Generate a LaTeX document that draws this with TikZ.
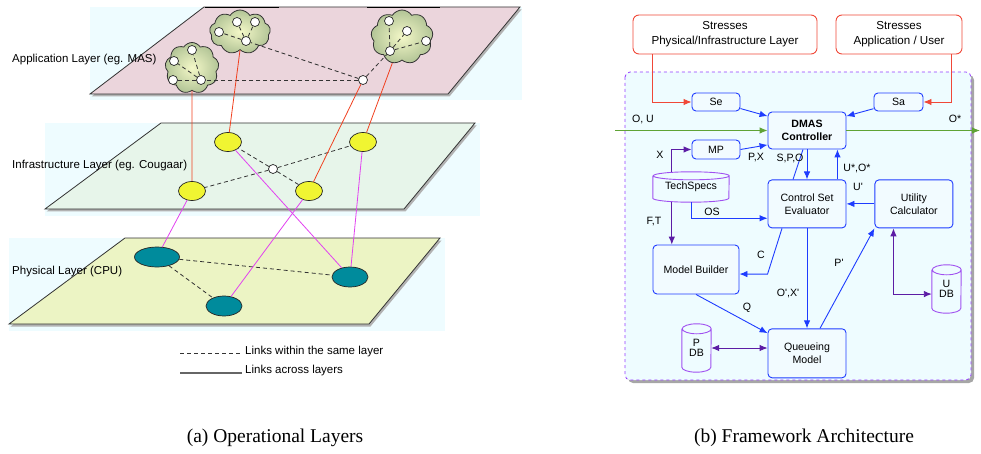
\documentclass[tikz,border=0pt]{standalone}
\usepackage{fontspec}
\setmainfont{Liberation Serif}
\setsansfont{Liberation Sans}
\usetikzlibrary{positioning,arrows.meta,calc,shapes.geometric,shapes.symbols}

\definecolor{bgcyan}{RGB}{238,252,255}
\definecolor{apppink}{RGB}{235,213,220}
\definecolor{infragreen}{RGB}{231,245,234}
\definecolor{physyellow}{RGB}{236,244,196}
\definecolor{cloudin}{RGB}{244,248,200}
\definecolor{cloudout}{RGB}{178,196,150}
\definecolor{hostyellow}{RGB}{240,245,50}
\definecolor{cputeal}{RGB}{0,139,156}
\definecolor{linkred}{RGB}{240,64,31}
\definecolor{linkmag}{RGB}{226,66,240}
\definecolor{flowblue}{RGB}{30,60,255}
\definecolor{boxfill}{RGB}{242,251,255}
\definecolor{stressred}{RGB}{240,72,56}
\definecolor{ctrlviolet}{RGB}{92,28,165}
\definecolor{dbviolet}{RGB}{160,80,240}
\definecolor{framepurple}{RGB}{150,60,255}
\definecolor{flowgreen}{RGB}{95,163,53}

% cylinder outline round a named node: name, half width, half height of the lid
\newcommand{\dbshape}[3]{%
  \draw[dbline] ($(#1.north west)+(0,-#3)$) -- ($(#1.south west)+(0,#3)$)
    arc[start angle=180, end angle=360, x radius=#2, y radius=#3]
    -- ($(#1.north east)+(0,-#3)$)
    arc[start angle=0, end angle=180, x radius=#2, y radius=#3]
    arc[start angle=180, end angle=360, x radius=#2, y radius=#3];}

\begin{document}
\begin{tikzpicture}[x=1pt, y=-1pt,
  plane/.style={draw=black!80, line width=0.8pt},
  planeshadow/.style={fill=black!30, shift={(1.5,2.5)}},
  agent/.style={circle, draw=black!85, fill=white, line width=0.7pt, minimum size=9pt, inner sep=0pt},
  group/.style={cloud, cloud puffs=9, cloud puff arc=115, draw=black!80, line width=0.8pt, inner color=cloudin, outer color=cloudout, inner sep=0pt},
  host/.style={ellipse, draw=black!85, fill=hostyellow, line width=0.7pt, minimum width=27pt, minimum height=19pt, inner sep=0pt},
  cpu/.style={ellipse, draw=black!85, fill=cputeal, line width=0.7pt, minimum width=36pt, minimum height=20pt, inner sep=0pt},
  samelayer/.style={draw=black!80, line width=0.8pt, dash pattern=on 4pt off 3pt},
  applink/.style={draw=linkred, line width=0.8pt},
  hostlink/.style={draw=linkmag, line width=0.8pt},
  layerlbl/.style={anchor=west, inner sep=0pt, font=\sffamily\fontsize{11.5}{13}\selectfont},
  legend/.style={anchor=west, inner sep=0pt, font=\sffamily\fontsize{11.5}{13}\selectfont},
  caption/.style={inner sep=0pt, font=\rmfamily\fontsize{19.5}{22}\selectfont},
  box/.style={draw=flowblue, fill=boxfill, rounded corners=4pt, line width=0.9pt, inner sep=0pt, align=center, font=\sffamily\fontsize{10.6}{12.7}\selectfont},
  stress/.style={draw=stressred, fill=white, rounded corners=6pt, line width=0.9pt, inner sep=0pt, align=center, minimum height=39pt, font=\sffamily\fontsize{11.6}{15}\selectfont},
  dbbox/.style={inner sep=0pt, align=center, font=\sffamily\fontsize{10.6}{13.5}\selectfont},
  dbline/.style={draw=dbviolet, line width=0.9pt},
  lbl/.style={inner sep=0pt, font=\sffamily\fontsize{10.6}{12}\selectfont},
  arr/.style={-{Latex[length=8pt,width=6.5pt]}, draw=flowblue, line width=0.9pt},
  parr/.style={-{Latex[length=8pt,width=6.5pt]}, draw=ctrlviolet, line width=0.9pt},
  pboth/.style={{Latex[length=8pt,width=6.5pt]}-{Latex[length=8pt,width=6.5pt]}, draw=ctrlviolet, line width=0.9pt},
  rarr/.style={-{Latex[length=8pt,width=6.5pt]}, draw=stressred, line width=0.9pt},
  garr/.style={-{Latex[length=8pt,width=6.5pt]}, draw=flowgreen, line width=1pt},
]
\useasboundingbox (0,0) rectangle (981,454);

% ---- (a) the three layers
\fill[bgcyan] (90,7) rectangle (522,100);
\fill[planeshadow] (204,7) -- (520,7) -- (448,94) -- (90,94) -- cycle;
\filldraw[plane, fill=apppink] (204,7) -- (520,7) -- (448,94) -- (90,94) -- cycle;
\draw[line width=1.6pt] (205,7.5) -- (279,7.5);
\draw[line width=1.6pt] (367,7.5) -- (440,7.5);

\fill[bgcyan] (45,123) rectangle (480,216);
\fill[planeshadow] (161,123) -- (475,123) -- (404,209) -- (45,209) -- cycle;
\filldraw[plane, fill=infragreen] (161,123) -- (475,123) -- (404,209) -- (45,209) -- cycle;

\fill[bgcyan] (9,238) rectangle (445,331);
\fill[planeshadow] (125,238) -- (440,238) -- (369,324) -- (9,324) -- cycle;
\filldraw[plane, fill=physyellow] (125,238) -- (440,238) -- (369,324) -- (9,324) -- cycle;

% agent groups
\node[group, minimum width=54pt, minimum height=51pt] (cl1) at (192,68) {};
\node[group, minimum width=61pt, minimum height=44pt] (cl2) at (240,32) {};
\node[group, minimum width=62pt, minimum height=54pt] (cl3) at (402,37) {};

\node[agent] (a1h) at (201,80) {};
\node[agent] (a1a) at (192,50) {};
\node[agent] (a1b) at (174,61) {};
\node[agent] (a1c) at (173,80) {};
\node[agent] (a2h) at (246,41) {};
\node[agent] (a2a) at (237,22) {};
\node[agent] (a2b) at (255,22) {};
\node[agent] (a2c) at (219,32) {};
\node[agent] (a3h) at (390,51) {};
\node[agent] (a3a) at (389,21) {};
\node[agent] (a3b) at (407,31) {};
\node[agent] (a3c) at (426,41) {};
\node[agent] (ahub) at (363,80) {};

\foreach \g in {1,2,3}
  \foreach \m in {a,b,c}
    \draw[samelayer] (a\g h) -- (a\g\m);
\draw[samelayer] (ahub) -- (a1h);
\draw[samelayer] (ahub) -- (a2h);
\draw[samelayer] (ahub) -- (a3h);

% hosts
\node[host] (hA) at (228,142) {};
\node[host] (hB) at (363,142) {};
\node[host] (hC) at (192,191) {};
\node[host] (hD) at (309,191) {};
\node[agent] (hhub) at (273,169) {};
\foreach \h in {A,B,C,D}
  \draw[samelayer] (hhub) -- (h\h);

% cpus
\node[cpu, minimum width=45pt] (p1) at (157,257) {};
\node[cpu] (p2) at (350,277) {};
\node[cpu] (p3) at (224,306) {};
\draw[samelayer] (p1) -- (p2);
\draw[samelayer] (p1) -- (p3);

% links across layers
\draw[applink] (cl1.south) -- (hC);
\draw[applink] (cl2.south) -- (hA);
\draw[applink] (ahub) -- (hD);
\draw[applink] (cl3) -- (hB);
\draw[hostlink] (hC) -- (p1);
\draw[hostlink] (hD) -- (p3);
\draw[hostlink] (hA) -- (p2);
\draw[hostlink] (hB) -- (p2);

\node[layerlbl] (lapp) at (12,60) {Application Layer (eg. MAS)};
\node[layerlbl] (linf) at (12,166) {Infrastructure Layer (eg. Cougaar)};
\node[layerlbl] (lphy) at (12,272) {Physical Layer (CPU)};

\node[legend] (lg1) at (245,352) {Links within the same layer};
\node[legend] (lg2) at (245,371) {Links across layers};
\coordinate (lg1s) at (180,353);
\coordinate (lg2s) at (180,373);
\draw[samelayer, line width=0.7pt] (lg1s) -- ($(lg1s -| lg1.west)+(-5pt,0)$);
\draw[black!60, line width=1.3pt] (lg2s) -- ($(lg2s -| lg2.west)+(-3pt,0)$);

\node[caption] (capa) at (275,438) {(a) Operational Layers};

% ---- (b) framework
\fill[black!35, rounded corners=5pt] (628,75) rectangle (974,383);
\filldraw[draw=framepurple, fill=bgcyan, dashed, line width=0.8pt, rounded corners=5pt] (625,72) rectangle (971,380);

\node[stress, minimum width=184pt] (s1) at (725,34.5) {Stresses\\Physical/Infrastructure Layer};
\node[stress, minimum width=126pt] (s2) at (899,34.5) {Stresses\\Application / User};

\node[box, minimum width=78pt, minimum height=37pt, font=\sffamily\bfseries\fontsize{10.6}{12.7}\selectfont] (ctrl) at (807,130.5) {DMAS\\Controller};
\node[box, minimum width=78pt, minimum height=48pt, below=30pt of ctrl] (cse) {Control Set\\Evaluator};
\node[box, minimum width=78pt, minimum height=48pt, right=28pt of cse] (uc) {Utility\\Calculator};
\node[box, minimum width=78pt, minimum height=49pt, below=100pt of cse] (qm) {Queueing\\Model};
\node[box, minimum width=48pt, minimum height=18pt] (se) at (716,102) {Se};
\node[box, minimum width=49pt, minimum height=18pt] (sa) at (898.5,102) {Sa};
\node[box, minimum width=48pt, minimum height=19pt] (mp) at (716,149.5) {MP};
\node[box, minimum width=86pt, minimum height=49pt] (mb) at (696,269.5) {Model Builder};

\node[dbbox, minimum width=76pt, minimum height=30pt] (ts) at (691,187) {\raisebox{-2pt}{TechSpecs}};
\node[dbbox, minimum width=29pt, minimum height=48pt] (pdb) at (696.5,348) {\raisebox{-2pt}{\shortstack{P\\DB}}};
\node[dbbox, minimum width=29pt, minimum height=48pt] (udb) at (946.5,289) {\raisebox{-2pt}{\shortstack{U\\DB}}};
\dbshape{ts}{38pt}{4pt}
\dbshape{pdb}{14.5pt}{5pt}
\dbshape{udb}{14.5pt}{5pt}

\coordinate (gin) at (615,130.5);
\coordinate (gout) at (980,130.5);
\draw[garr] (gin) -- (ctrl.west);
\draw[garr] (ctrl.east) -- (gout);

\draw[rarr] ($(s1.south west)+(20pt,0)$) |- (se.west);
\draw[rarr] ($(s2.south east)+(-11pt,0)$) |- (sa.east);
\draw[arr] (se.-15) -- (ctrl.160);
\draw[arr] (sa.195) -- (ctrl.20);
\draw[arr] (mp.east) -- (ctrl.200);
\draw[parr] ($(ts.north west)+(19pt,0)$) |- (mp.west);
\draw[arr] (ts.south) |- (cse.200);
\coordinate (ft) at ($(ts.south west)+(19pt,0)$);
\draw[parr] (ft) -- (ft |- mb.north);
\draw[arr] (ctrl.south) -- (cse.north);
\coordinate (uo) at ($(cse.north east)+(-9pt,0)$);
\draw[arr] (uo) -- (uo |- ctrl.south);
\draw[draw=flowblue, line width=0.9pt] ($(cse.north)+(-14pt,0)$) -- ($(ctrl.south)+(-4pt,0)$);
\draw[arr] (uc.west) -- (cse.east);
\draw[arr] ($(cse.south)+(-25pt,0)$) -- (cse.south west |- mb.-6) -- (mb.-6);
\draw[arr] (cse.south) -- (qm.north);
\draw[arr] ($(qm.north)+(13pt,0)$) -- (uc.south west);
\draw[arr] (mb.south) -- (qm.153);
\draw[pboth] (pdb.east) -- (pdb.east -| qm.west);
\draw[pboth] (udb.199) -| ($(uc.south west)+(19pt,0)$);

\node[lbl] (lou) at (643,119) {O, U};
\node[lbl] (los) at (955,119) {O*};
\node[lbl] (lx) at (660,155) {X};
\node[lbl] (lpx) at (756,158) {P,X};
\node[lbl] (lspo) at (790,158) {S,P,O};
\node[lbl] (luo) at (857,168) {U*,O*};
\node[lbl] (lu) at (858,187) {U\textquotesingle};
\node[lbl] (lossp) at (712,212) {OS};
\node[lbl] (lft) at (654,222) {F,T};
\node[lbl] (lc) at (761,255) {C};
\node[lbl] (lp) at (839,263) {P\textquotesingle};
\node[lbl] (lox) at (788,293) {O\textquotesingle,X\textquotesingle};
\node[lbl] (lq) at (747,308) {Q};

\node[caption] (capb) at (804,438) {(b) Framework Architecture};
\end{tikzpicture}
\end{document}
